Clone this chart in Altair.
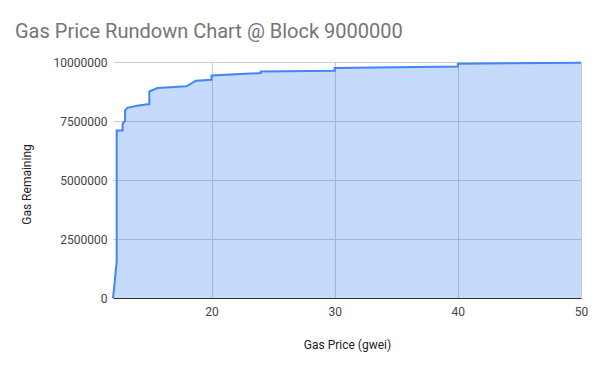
import altair as alt
import pandas as pd

gas_price = [12.0, 12.08, 12.3, 12.3, 12.78, 12.78, 12.98, 12.98, 13.16, 13.95, 14.95, 14.95,
             15.62, 17.97, 18.73, 20.0, 20.0, 24.0, 24.0, 30.0, 30.0, 40.0, 40.0, 50.0]
gas_remaining = [0, 380000, 1550000, 7100000, 7100000, 7390000, 7510000, 7950000, 8060000, 8150000,
                 8220000, 8750000, 8900000, 8970000, 9210000, 9250000, 9430000, 9530000, 9600000,
                 9630000, 9750000, 9810000, 9930000, 9970000]
x_ticks = [20, 30, 40, 50]
y_ticks = [0, 2500000, 5000000, 7500000, 10000000]

df = pd.DataFrame({"gwei": gas_price, "remaining": gas_remaining, "order": list(range(len(gas_price)))})

FONT = "Roboto"
BLUE = "#4285F4"

x = alt.X("gwei:Q", scale=alt.Scale(domain=[12, 50], nice=False, zero=False),
          axis=alt.Axis(values=x_ticks, title="Gas Price (gwei)", grid=True, gridColor="#cccccc",
                        domain=True, domainColor="#333333", domainWidth=1, ticks=False, labelFlush=False,
                        labelColor="#444444", labelFontSize=12, labelFont=FONT, labelPadding=8,
                        titleColor="#222222", titleFontSize=12, titleFont=FONT, titleFontWeight="normal",
                        titlePadding=22))
y_axis = alt.Axis(values=y_ticks, title="Gas Remaining", format="d", grid=True, gridColor="#cccccc",
                  domain=False, ticks=False, labelColor="#444444", labelFontSize=12, labelFont=FONT,
                  labelPadding=6, titleColor="#222222", titleFontSize=12, titleFont=FONT,
                  titleFontWeight="normal", titleX=-80, titleY=122)
y_scale = alt.Scale(domain=[0, 10000000], nice=False)

area = alt.Chart(df).mark_area(color=BLUE, fillOpacity=0.3, orient="vertical").encode(
    x=x, y=alt.Y("remaining:Q", scale=y_scale, axis=y_axis, stack=None))
line = alt.Chart(df).mark_line(color=BLUE, strokeWidth=2).encode(
    x=x, y=alt.Y("remaining:Q", scale=y_scale, axis=y_axis), order="order:Q")

chart = alt.layer(area, line).properties(
    width=468, height=236,
    title=alt.TitleParams("Gas Price Rundown Chart @ Block 9000000", anchor="start", frame="group",
                          dx=-98, fontSize=20, font=FONT, fontWeight="normal", color="#757575", offset=14),
    autosize=alt.AutoSizeParams(type="none"),
    padding={"left": 105, "top": 54, "right": 11, "bottom": 65},
).configure_view(stroke=None)

chart.save("out.html", embed_options={"renderer": "svg", "actions": False})
